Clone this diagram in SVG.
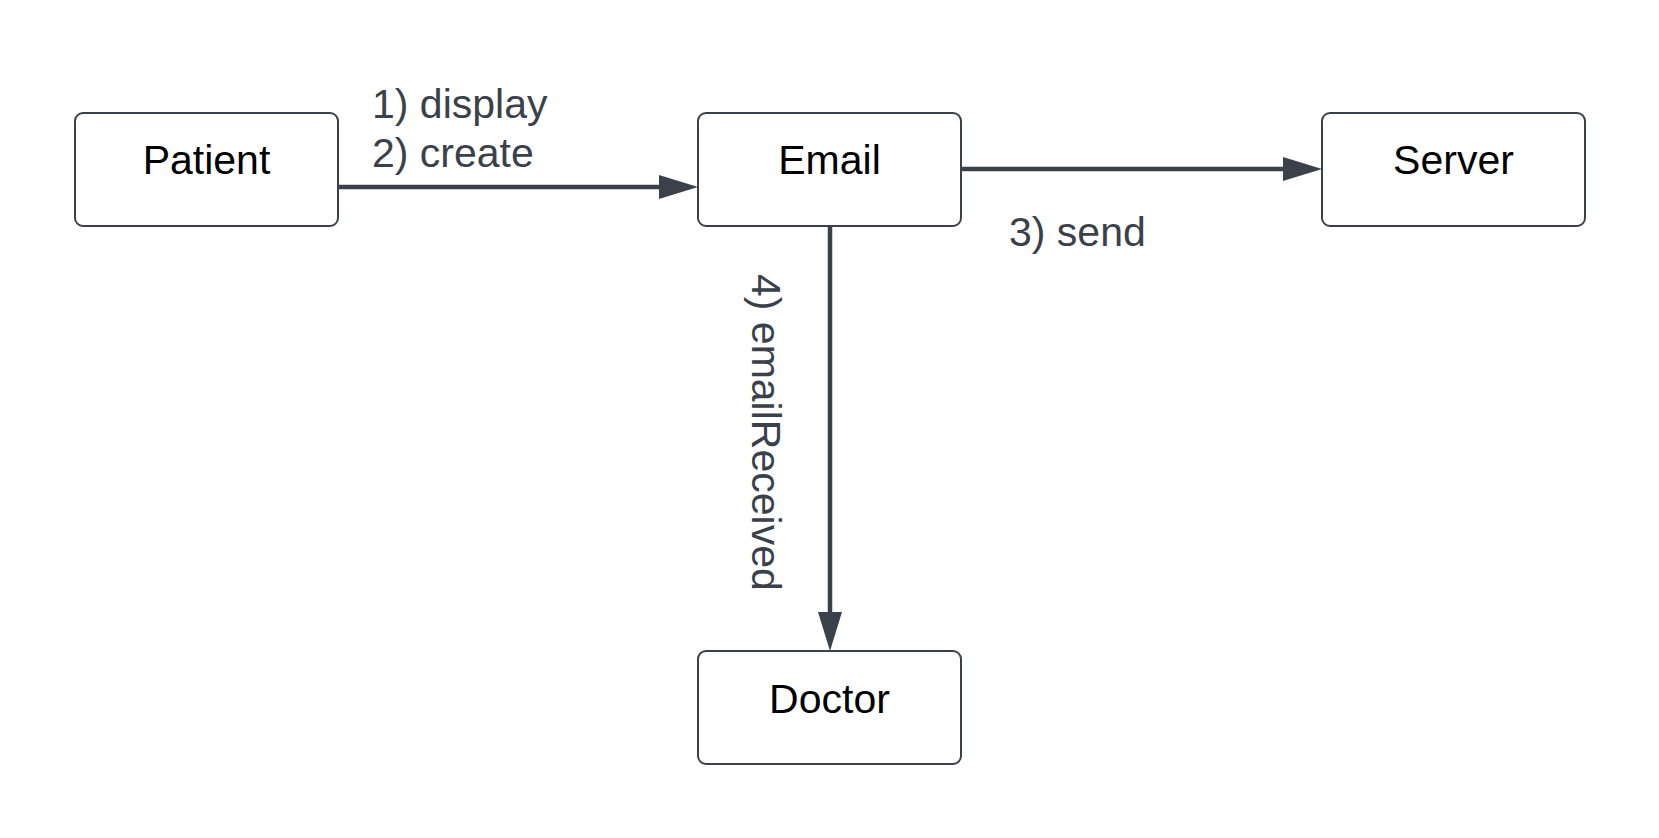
<svg xmlns="http://www.w3.org/2000/svg" width="1659" height="838" viewBox="0 0 1659 838">
<style>
.box{fill:#ffffff;stroke:#3a414a;stroke-width:2}
.name{font-family:"Liberation Sans",Arial,sans-serif;font-size:41px;fill:#000000;text-anchor:middle}
.lbl{font-family:"Liberation Sans",Arial,sans-serif;font-size:41px;fill:#3a414a}
.edge{stroke:#3a414a;stroke-width:4.5;fill:none}
</style>
<defs>
<marker id="arr" markerUnits="userSpaceOnUse" markerWidth="40" markerHeight="26" refX="1" refY="12" orient="auto" viewBox="0 0 40 24">
<path d="M0,0 L39,12 L0,24 z" fill="#3a414a"/>
</marker>
</defs>
<rect width="1659" height="838" fill="#ffffff"/>
<g id="connectors">
<line class="edge" x1="338" y1="187" x2="660" y2="187" marker-end="url(#arr)"/>
<line class="edge" x1="961" y1="169" x2="1284" y2="169" marker-end="url(#arr)"/>
<line class="edge" x1="830" y1="226" x2="830" y2="613" marker-end="url(#arr)"/>
<text class="lbl" x="372" y="118">1) display</text>
<text class="lbl" x="372" y="167">2) create</text>
<text class="lbl" x="1009" y="246">3) send</text>
<text class="lbl" transform="translate(752,274) rotate(90)">4) emailReceived</text>
</g>
<g id="patient">
<rect class="box" x="75" y="113" width="263" height="113" rx="8"/>
<text class="name" x="206.5" y="174">Patient</text>
</g>
<g id="email">
<rect class="box" x="698" y="113" width="263" height="113" rx="8"/>
<text class="name" x="829.5" y="174">Email</text>
</g>
<g id="server">
<rect class="box" x="1322" y="113" width="263" height="113" rx="8"/>
<text class="name" x="1453.5" y="174">Server</text>
</g>
<g id="doctor">
<rect class="box" x="698" y="651" width="263" height="113" rx="8"/>
<text class="name" x="829.5" y="713">Doctor</text>
</g>
</svg>
